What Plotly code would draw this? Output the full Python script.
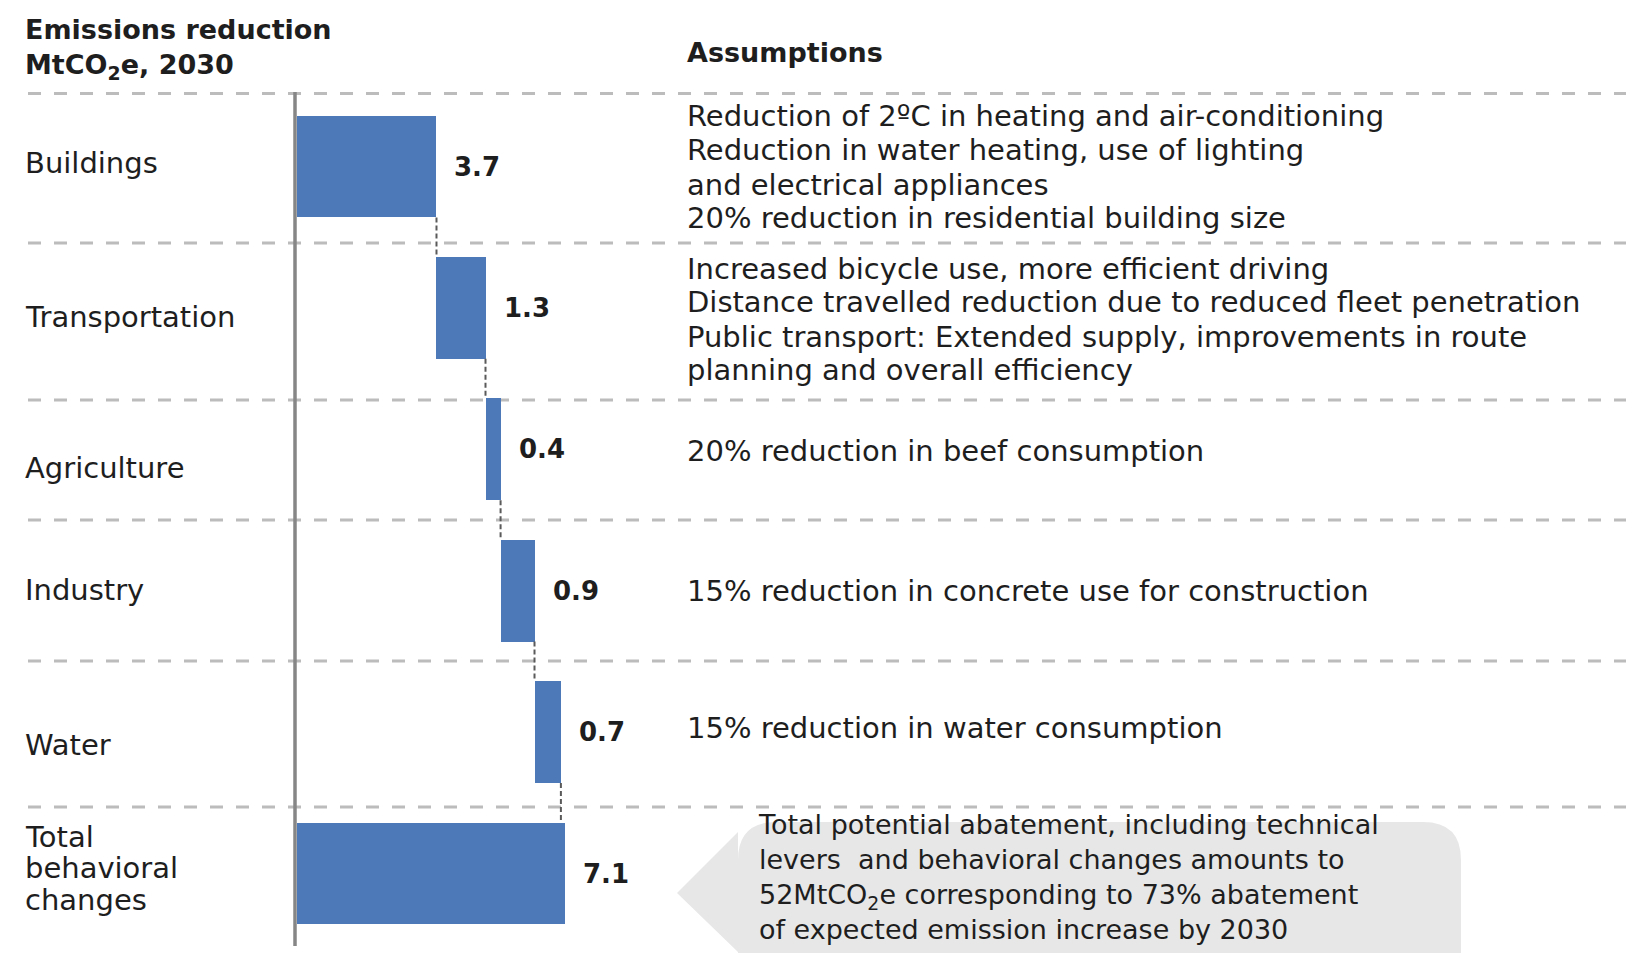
import plotly.graph_objects as go

# ---------------- data ----------------
categories = ["Buildings", "Transportation", "Agriculture", "Industry", "Water", "Total behavioral changes"]
category_labels = ["Buildings", "Transportation", "Agriculture", "Industry", "Water", "Total<br>behavioral<br>changes"]
reductions = [3.7, 1.3, 0.4, 0.9, 0.7]
total_reduction = 7.1
value_labels = ["3.7", "1.3", "0.4", "0.9", "0.7", "7.1"]
assumptions = [
    "Reduction of 2ºC in heating and air-conditioning<br>Reduction in water heating, use of lighting<br>and electrical appliances<br>20% reduction in residential building size",
    "Increased bicycle use, more efficient driving<br>Distance travelled reduction due to reduced fleet penetration<br>Public transport: Extended supply, improvements in route<br>planning and overall efficiency",
    "20% reduction in beef consumption",
    "15% reduction in concrete use for construction",
    "15% reduction in water consumption",
]
callout_text = ("Total potential abatement, including technical<br>levers  and behavioral changes amounts to<br>"
                "52MtCO<sub>2</sub>e corresponding to 73% abatement<br>of expected emission increase by 2030")

# ---------------- layout constants (pixels) ----------------
W, H = 1634, 953
X0_PX, PX_PER_UNIT = 289.0, 37.7
ROW0_PX, ROW_PX = 158.5, 141.4
BAR_W = 0.72
BLUE = "#4D79B8"
TXT = "#1e1e1e"
FONT = "DejaVu Sans"
FS = 29
LINE = 34
sep_px = [85.5, 235, 392, 512, 653, 799]
label_y = [155, 309, 460, 582, 737, 860]
label_line = [31, 31, 31, 31, 31, 31.5]
assump_y = [159.5, 311.5, 443, 583, 720]


def pxx(x):
    return x / W


def pxy(y):
    return 1 - y / H


# cumulative bases
bases, ends = [], []
c = 0.0
for v in reductions:
    bases.append(c)
    c += v
    ends.append(c)
bases.append(0.0)
ends.append(total_reduction)
widths = reductions + [total_reduction]

fig = go.Figure()
fig.add_trace(go.Bar(
    y=categories, x=widths, base=bases, orientation="h",
    marker=dict(color=BLUE, line=dict(width=0)), width=BAR_W,
    hoverinfo="skip", showlegend=False,
))

shapes = []
# callout box with arrow (drawn below)
L, R, T, B, r = 730, 1453, 814, 990, 38
tipx, tipy = 669, 885
pts = [
    f"M {pxx(L)},{pxy(T + r)}",
    f"Q {pxx(L)},{pxy(T)} {pxx(L + r)},{pxy(T)}",
    f"L {pxx(R - r)},{pxy(T)}",
    f"Q {pxx(R)},{pxy(T)} {pxx(R)},{pxy(T + r)}",
    f"L {pxx(R)},{pxy(B)}",
    f"L {pxx(L)},{pxy(B)}",
    f"L {pxx(L)},{pxy(944)}",
    f"L {pxx(tipx)},{pxy(tipy)}",
    f"L {pxx(L)},{pxy(T + 10)}",
    "Z",
]
shapes.append(dict(type="path", xref="paper", yref="paper", path=" ".join(pts),
                   fillcolor="#e7e7e7", line=dict(width=0), layer="below"))
# dashed separators
for sy in sep_px:
    shapes.append(dict(type="line", xref="paper", yref="paper",
                       x0=pxx(20), x1=1, y0=pxy(sy), y1=pxy(sy),
                       line=dict(color="#bcbcbc", width=3, dash="13px,13px"), layer="below"))
# connectors
for i in range(len(reductions)):
    shapes.append(dict(type="line", xref="x", yref="y",
                       x0=ends[i], x1=ends[i], y0=i + BAR_W / 2, y1=i + 1 - BAR_W / 2,
                       line=dict(color="#5a5a5a", width=2, dash="5px,3px")))
# vertical axis line
shapes.append(dict(type="line", xref="paper", yref="paper",
                   x0=pxx(287), x1=pxx(287), y0=pxy(84), y1=pxy(938),
                   line=dict(color="#868686", width=3.5)))

annotations = []


def ann(text, x, y, bold=False, size=FS, yanchor="middle"):
    annotations.append(dict(
        text=f"<b>{text}</b>" if bold else text, xref="paper", yref="paper",
        x=pxx(x), y=pxy(y), xanchor="left", yanchor=yanchor, align="left",
        showarrow=False, font=dict(family=FONT, size=size, color=TXT)))


def block(text, x, yc, spacing, **kw):
    lines = text.split("<br>")
    n = len(lines)
    for k, ln in enumerate(lines):
        ann(ln, x, yc + (k - (n - 1) / 2) * spacing, **kw)


# titles
ann("Emissions reduction", 15, 21, bold=True, size=27)
ann("MtCO<sub>2</sub>e, 2030", 15, 58, bold=True, size=27)
ann("Assumptions", 677, 44, bold=True, size=27)

# row labels
for lab, yc, sp in zip(category_labels, label_y, label_line):
    block(lab, 15, yc, sp)

# value labels
for i, (e, t) in enumerate(zip(ends, value_labels)):
    annotations.append(dict(
        text=f"<b>{t}</b>", xref="x", yref="y", x=e, y=categories[i],
        xanchor="left", yanchor="middle", xshift=16, showarrow=False,
        font=dict(family=FONT, size=26, color=TXT)))

# assumptions
for txt, yy in zip(assumptions, assump_y):
    block(txt, 677, yy, LINE)

# callout text (single multi-line text, kept inside the figure)
ann(callout_text, 748, 939, size=27, yanchor="bottom")

fig.update_layout(
    width=W, height=H,
    margin=dict(l=0, r=0, t=0, b=0),
    paper_bgcolor="white", plot_bgcolor="white",
    xaxis=dict(range=[-X0_PX / PX_PER_UNIT, (W - X0_PX) / PX_PER_UNIT],
               visible=False, fixedrange=True),
    yaxis=dict(range=[(H - ROW0_PX) / ROW_PX, -ROW0_PX / ROW_PX],
               visible=False, fixedrange=True, categoryorder="array", categoryarray=categories),
    shapes=shapes, annotations=annotations,
    bargap=0, showlegend=False,
)

fig.write_html("out.html")
